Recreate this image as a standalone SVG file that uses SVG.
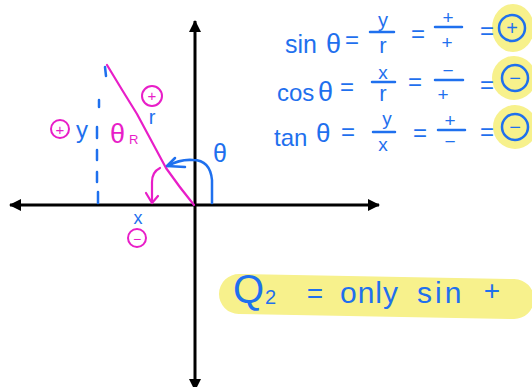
<svg xmlns="http://www.w3.org/2000/svg" width="532" height="387" viewBox="0 0 532 387">
<style>
.b{fill:#1f70ee;font-family:"Liberation Sans",Arial,sans-serif}
.m{fill:#e81ec8;font-family:"Liberation Sans",Arial,sans-serif}
.bs{fill:none;stroke:#1f70ee;stroke-width:2.5;stroke-linecap:round;stroke-linejoin:round}
.ms{fill:none;stroke:#e81ec8;stroke-width:2.2;stroke-linecap:round;stroke-linejoin:round}
.ax{fill:none;stroke:#000;stroke-width:3}
.hl{fill:#f7f18c}
</style>
<defs>
<marker id="ah" markerUnits="userSpaceOnUse" markerWidth="12" markerHeight="12" refX="11" refY="6" orient="auto">
<path d="M0,0 L12,6 L0,12 Z" fill="#000"/>
</marker>
</defs>
<rect width="532" height="387" fill="#fff"/>

<!-- highlights -->
<g id="highlights">
<ellipse class="hl" cx="513" cy="28" rx="21" ry="24"/>
<ellipse class="hl" cx="514" cy="78" rx="22" ry="22"/>
<ellipse class="hl" cx="515" cy="127" rx="22" ry="22"/>
<path d="M239,294 L514,299" stroke="#f7f18c" stroke-width="40" stroke-linecap="round" fill="none"/>
</g>

<!-- axes -->
<g id="axes">
<line class="ax" x1="195" y1="205" x2="379" y2="205" marker-end="url(#ah)"/>
<line class="ax" x1="195" y1="205" x2="10" y2="205" marker-end="url(#ah)"/>
<line class="ax" x1="195" y1="205" x2="195" y2="21" marker-end="url(#ah)"/>
<line class="ax" x1="195" y1="205" x2="195" y2="390" marker-end="url(#ah)"/>
</g>

<!-- connectors / drawn lines -->
<g id="connectors">
<path class="ms" d="M107,65 Q122,90 137,114 Q152,142 166,168 Q180,188 194,205"/>
<path class="bs" d="M105,67 L106,76 M99,100 L99,107 M97,127 L97,138 M97,150 L97,160 M97,172 L97,182 M98,192 L98,203"/>
<path class="bs" d="M212,203 L212,180 Q210,160 193,160 Q180,159 168,166"/>
<path class="bs" d="M175,158 L167,166 L185,167"/>
<path class="ms" d="M160,168 Q152,172 152,182 L152,203"/>
<path class="ms" d="M146,193 L152,203 L158,196"/>
</g>

<!-- graph labels -->
<g id="label-r">
<circle cx="152" cy="96" r="10" fill="none" stroke="#e81ec8" stroke-width="2"/>
<text class="m" x="152" y="101" font-size="15" text-anchor="middle">+</text>
<text class="b" x="152" y="124" font-size="20" text-anchor="middle">r</text>
</g>
<g id="label-y">
<circle cx="60" cy="129" r="9" fill="none" stroke="#e81ec8" stroke-width="2"/>
<text class="m" x="60" y="135" font-size="15" text-anchor="middle">+</text>
<text class="b" x="82" y="138" font-size="24" text-anchor="middle">y</text>
</g>
<g id="label-x">
<text class="b" x="138" y="224" font-size="18" text-anchor="middle">x</text>
<circle cx="137" cy="238" r="9" fill="none" stroke="#e81ec8" stroke-width="2"/>
<text class="m" x="137" y="244" font-size="14" text-anchor="middle">−</text>
</g>
<g id="label-thetaR">
<text class="m" x="110" y="143" font-size="27">θ</text>
<text class="m" x="129" y="144" font-size="13">R</text>
</g>
<g id="label-theta">
<text class="b" x="213" y="162" font-size="25">θ</text>
</g>

<!-- equations -->
<g id="eq-sin">
<text class="b" x="285" y="53" font-size="25">sin</text>
<text class="b" x="326" y="53" font-size="27">θ</text>
<text class="b" x="352" y="48" font-size="24" text-anchor="middle">=</text>
<text class="b" x="383" y="27" font-size="20" text-anchor="middle">y</text>
<line class="bs" x1="370" y1="32" x2="394" y2="32"/>
<text class="b" x="383" y="53" font-size="22" text-anchor="middle">r</text>
<text class="b" x="418" y="42" font-size="24" text-anchor="middle">=</text>
<text class="b" x="448" y="24" font-size="19" text-anchor="middle">+</text>
<line class="bs" x1="435" y1="27" x2="462" y2="27"/>
<text class="b" x="447" y="49" font-size="19" text-anchor="middle">+</text>
<text class="b" x="487" y="39" font-size="24" text-anchor="middle">=</text>
<circle cx="512" cy="28" r="13" fill="none" stroke="#1f70ee" stroke-width="2.5"/>
<text class="b" x="512" y="35" font-size="20" text-anchor="middle">+</text>
</g>
<g id="eq-cos">
<text class="b" x="277" y="101" font-size="24">cos</text>
<text class="b" x="318" y="101" font-size="27">θ</text>
<text class="b" x="347" y="95" font-size="24" text-anchor="middle">=</text>
<text class="b" x="383" y="79" font-size="19" text-anchor="middle">x</text>
<line class="bs" x1="372" y1="82" x2="395" y2="82"/>
<text class="b" x="383" y="101" font-size="22" text-anchor="middle">r</text>
<text class="b" x="415" y="90" font-size="24" text-anchor="middle">=</text>
<text class="b" x="448" y="77" font-size="19" text-anchor="middle">−</text>
<line class="bs" x1="435" y1="80" x2="463" y2="80"/>
<text class="b" x="443" y="101" font-size="19" text-anchor="middle">+</text>
<text class="b" x="487" y="93" font-size="24" text-anchor="middle">=</text>
<circle cx="515" cy="78" r="13" fill="none" stroke="#1f70ee" stroke-width="2.5"/>
<text class="b" x="515" y="85" font-size="20" text-anchor="middle">−</text>
</g>
<g id="eq-tan">
<text class="b" x="274" y="146" font-size="24">tan</text>
<text class="b" x="316" y="142" font-size="26">θ</text>
<text class="b" x="348" y="140" font-size="24" text-anchor="middle">=</text>
<text class="b" x="387" y="125" font-size="19" text-anchor="middle">y</text>
<line class="bs" x1="373" y1="132" x2="395" y2="132"/>
<text class="b" x="383" y="151" font-size="19" text-anchor="middle">x</text>
<text class="b" x="420" y="141" font-size="24" text-anchor="middle">=</text>
<text class="b" x="450" y="127" font-size="19" text-anchor="middle">+</text>
<line class="bs" x1="438" y1="130" x2="465" y2="130"/>
<text class="b" x="450" y="148" font-size="19" text-anchor="middle">−</text>
<text class="b" x="487" y="140" font-size="24" text-anchor="middle">=</text>
<circle cx="515" cy="127" r="13" fill="none" stroke="#1f70ee" stroke-width="2.5"/>
<text class="b" x="515" y="134" font-size="20" text-anchor="middle">−</text>
</g>

<!-- summary -->
<g id="summary">
<text class="b" x="233" y="303" font-size="40">Q</text>
<text class="b" x="265" y="304" font-size="20">2</text>
<text class="b" x="315" y="303" font-size="28" text-anchor="middle">=</text>
<text class="b" x="340" y="303" font-size="30" letter-spacing="1">only</text>
<text class="b" x="417" y="303" font-size="30" letter-spacing="3">sin</text>
<text class="b" x="492" y="300" font-size="28" text-anchor="middle">+</text>
</g>
</svg>
